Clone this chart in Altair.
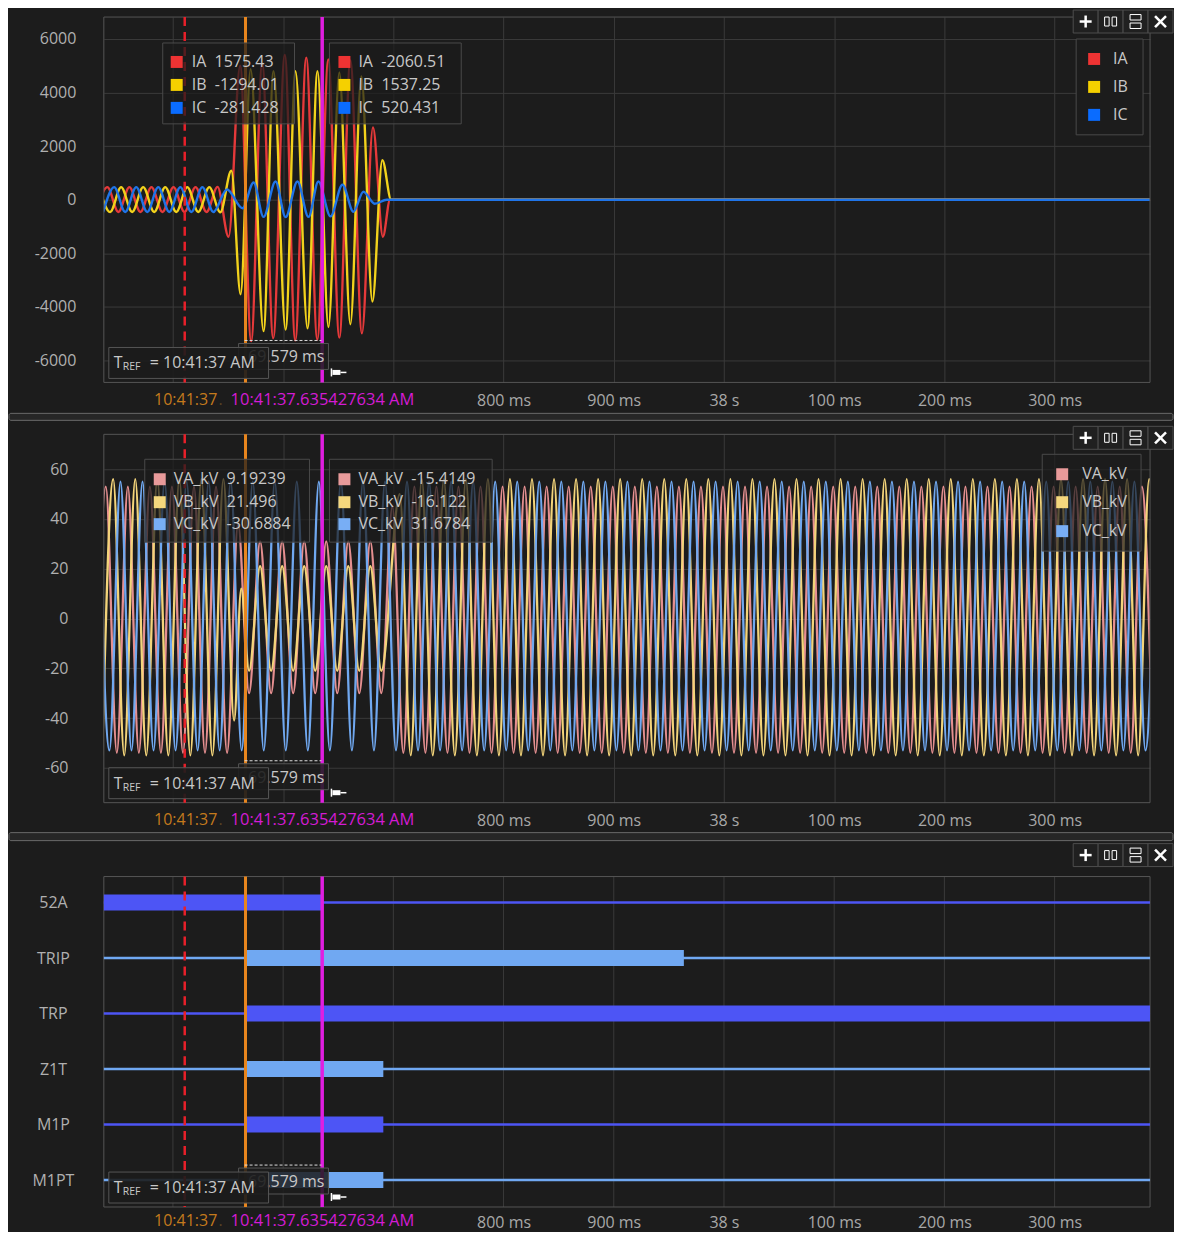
import altair as alt
import pandas as pd

# ---------------- data (time in ms after 10:41:37) ----------------
T_START, T_END = 437.3, 1386.6
X_TICKS = [500, 600, 700, 800, 900, 1000, 1100, 1200, 1300]

CURSOR_TRIGGER = 510.7
CURSOR_1 = 565.85
CURSOR_2 = 635.43
DELTA_TEXT = "69.579 ms"
TREF_TEXT = "= 10:41:37 AM"
C1_LABEL = "10:41:37"
C2_LABEL = "10:41:37.635427634 AM"

# currents: extrema
IA_t = [430.5, 440.5, 450.5, 460.5, 470.5, 480.5, 490.5, 500.5, 510.5, 520.5, 530.5, 540.5,
        550.5, 561.0, 571.0, 581.0, 591.0, 601.5, 611.0, 621.0, 631.0, 641.0, 651.0, 661.0,
        671.5, 681.5, 690.5, 697.0, 1390.0]
IA_v = [-460, 470, -460, 470, -460, 470, -460, 470, -460, 470, -460, 480,
        -1380, 5000, -5280, 5100, -5170, 5400, -5250, 5300, -5220, 5240, -5150, 5200,
        -4990, 2700, -1380, 0, 0]
IB_t = [433, 443, 453, 463, 473, 483, 493, 503, 513, 523, 533, 543,
        553.0, 561.4, 570.5, 582.2, 591.3, 602.2, 611.2, 622.1, 631.2, 641.1, 651.0, 661.0,
        671.0, 681.0, 690.0, 698.0, 1390.0]
IB_v = [470, -460, 470, -460, 470, -460, 470, -460, 470, -460, 470, -470,
        1080, -3530, 4870, -4900, 4800, -4850, 4800, -4800, 4800, -4750, 4750, -4650,
        4600, -3800, 1480, 0, 0]
IC_t = [436.7, 446.7, 456.7, 466.7, 476.7, 486.7, 496.7, 506.7, 516.7, 526.7, 536.7,
        549.0, 563.2, 573.2, 582.2, 593.1, 602.2, 613.0, 623.0, 632.0, 643.0, 653.8, 663.8,
        672.8, 683.0, 694.0, 1390.0]
IC_v = [-460, 470, -460, 470, -460, 470, -460, 470, -460, 470, -460,
        380, -320, 645, -640, 680, -650, 680, -640, 680, -620, 560, -450,
        300, -150, 0, 0]

# voltages: half-cycle extrema (10 ms sample grid per segment)
VA_t = ([429.1 + 10 * k for k in range(13)] + [559.1 + 10 * k for k in range(14)]
        + [699.1 + 10 * k for k in range(70)])
VA_v = ([-54, 53] * 6 + [-54]
        + [38, -30, 31, -30, 31, -30, 31, -30, 31, -30, 31, -30, 31, -30]
        + [45] + [-54, 53] * 34 + [-54])
VB_t = ([435.8 + 10 * k for k in range(12)] + [555.5, 562.0]
        + [569.1 + 10 * k for k in range(13)] + [705.8 + 10 * k for k in range(70)])
VB_v = ([-55, 56] * 6 + [-41, 12] + [-21, 21] * 6 + [-21]
        + [50] + [-55, 56] * 34 + [-55])
VC_t = [432.4 + 10 * k for k in range(97)]
VC_v = [55, -53] * 48 + [55]

# digital channels
ROWS = ["52A", "TRIP", "TRP", "Z1T", "M1P", "M1PT"]
ROW_KIND = ["dark", "light", "dark", "light", "dark", "light"]
ON_START = [437.3, 566.8, 566.8, 566.8, 566.8, 566.8]
ON_END = [635.43, 963.6, 1386.6, 690.9, 690.9, 690.9]

READ1_I = [("IA", "1575.43"), ("IB", "-1294.01"), ("IC", "-281.428")]
READ2_I = [("IA", "-2060.51"), ("IB", "1537.25"), ("IC", "520.431")]
READ1_V = [("VA_kV", "9.19239"), ("VB_kV", "21.496"), ("VC_kV", "-30.6884")]
READ2_V = [("VA_kV", "-15.4149"), ("VB_kV", "-16.122"), ("VC_kV", "31.6784")]

# ---------------- styling ----------------
BG = "#1c1c1c"
FONT = "Open Sans"
TXT = "#c8c8c8"
GRID = "#3a3a3a"
BORDER = "#555555"
I_COL = {"IA": "#e5393a", "IB": "#f2d21c", "IC": "#1f74e8"}
I_SQ = {"IA": "#ee3333", "IB": "#f5d000", "IC": "#0a6cff"}
V_COL = {"VA_kV": "#e58f90", "VB_kV": "#f3d47a", "VC_kV": "#70a8f0"}
V_SQ = {"VA_kV": "#e89a9a", "VB_kV": "#f5d77d", "VC_kV": "#78aef5"}
DARK, LIGHT = "#4d55f5", "#70a8f2"

W = 1048
H1, H2 = 366, 369
P3_TOP, H3 = 22, 353          # panel 3 plot area runs from P3_TOP to H3
XS = alt.Scale(domain=[T_START, T_END], nice=False, zero=False)
ONE = pd.DataFrame({"k": [0]})
NB = "\u00a0\u00a0"
LABEL_EXPR = "datum.value < 750 ? '' : (datum.value == 1000 ? '38 s' : (datum.value % 1000) + ' ms')"


def x_axis(pad=10, grid=True):
    return alt.Axis(values=X_TICKS, grid=grid, gridColor=GRID, domain=False, ticks=False,
                    tickSize=0, labelPadding=pad, labelFontSize=16, labelColor="#a8a8a8",
                    labelFont=FONT, labelOverlap=False, labelFlush=False, title=None,
                    labelExpr=LABEL_EXPR)


def y_axis(values, pad):
    return alt.Axis(values=values, grid=True, gridColor=GRID, domain=False, ticks=False,
                    tickSize=0, labelPadding=pad, labelFontSize=16, labelColor="#b0b0b0",
                    labelFont=FONT, title=None, labelExpr="'' + datum.value")


def txt(x, y, s, color=TXT, size=16, align="left", weight="normal", font=FONT):
    return alt.Chart(ONE).mark_text(align=align, baseline="middle", fontSize=size, color=color,
                                    font=font, fontWeight=weight).encode(
        x=alt.value(x), y=alt.value(y), text=alt.value(s))


def box(x1, y1, x2, y2, fill=BG, stroke="#4a4a4a", fo=1.0, sw=1.0, cr=0):
    kw = dict(fill=fill, fillOpacity=fo, strokeWidth=sw, cornerRadius=cr)
    if stroke:
        kw["stroke"] = stroke
    return alt.Chart(ONE).mark_rect(**kw).encode(
        x=alt.value(x1), x2=alt.value(x2), y=alt.value(y1), y2=alt.value(y2))


def line(x1, y1, x2, y2, color="#ffffff", sw=1.0, dash=None):
    kw = dict(color=color, strokeWidth=sw)
    if dash:
        kw["strokeDash"] = dash
    return alt.Chart(ONE).mark_rule(**kw).encode(
        x=alt.value(x1), x2=alt.value(x2), y=alt.value(y1), y2=alt.value(y2))


def cursors(y0, y1, xa):
    def c(t, color, sw, dash=None):
        kw = dict(color=color, strokeWidth=sw)
        if dash:
            kw["strokeDash"] = dash
        return alt.Chart(pd.DataFrame({"t": [t]})).mark_rule(**kw).encode(
            x=alt.X("t:Q", scale=XS, axis=xa), y=alt.value(y0), y2=alt.value(y1))
    return [c(CURSOR_TRIGGER, "#e8202a", 2.5, [9, 6]), c(CURSOR_1, "#e8861e", 3),
            c(CURSOR_2, "#e01ee0", 3.5)]


def toolbar(y0):
    L = []
    for bx in [971, 996, 1021, 1046]:
        L.append(box(bx, y0, bx + 25, y0 + 23, fill="#202020", stroke="#4d4d4d"))
    cy = y0 + 11.5
    L.append(line(977.5, cy, 989.5, cy, sw=2.5))
    L.append(line(983.5, cy - 6, 983.5, cy + 6, sw=2.5))
    L.append(box(1002.5, cy - 4.5, 1007, cy + 4.5, fill="#202020", stroke="#ffffff", fo=0))
    L.append(box(1010, cy - 4.5, 1014.5, cy + 4.5, fill="#202020", stroke="#ffffff", fo=0))
    L.append(box(1028, cy - 7, 1039, cy - 1.5, fill="#202020", stroke="#ffffff", fo=0))
    L.append(box(1028, cy + 1.5, 1039, cy + 7, fill="#202020", stroke="#ffffff", fo=0))
    L.append(line(1053, cy - 5.5, 1064, cy + 5.5, sw=2.5))
    L.append(line(1053, cy + 5.5, 1064, cy - 5.5, sw=2.5))
    return L


def bottom(H, dy):
    L = []
    L.append(box(135, H - 39, 225, H - 13, fo=0.85, stroke=BORDER))
    L.append(line(141, H - 42, 218, H - 42, color="#dddddd", sw=1, dash=[3, 2]))
    L.append(txt(221, H - 25, DELTA_TEXT, align="right"))
    L.append(box(5, H - 35, 165, H - 4, fo=0.9, stroke=BORDER))
    L.append(txt(10, H - 19, "T"))
    L.append(txt(19, H - 15, "REF", size=10.5))
    L.append(txt(46, H - 19, TREF_TEXT))
    # pin icon
    L.append(line(228, H - 14, 228, H - 6, sw=1.5))
    L.append(box(229, H - 12.5, 237, H - 7.5, fill="#ffffff", stroke=None))
    L.append(line(237, H - 10, 243, H - 10, sw=1.5))
    # cursor time labels
    L.append(txt(82, H + dy, C1_LABEL, color="#c47a1c", size=16, align="center"))
    L.append(txt(117, H + dy, ".", color="#5a4424", size=16, align="center"))
    L.append(txt(219, H + dy, C2_LABEL, color="#d41bd4", size=16.5, align="center"))
    return L


def readout(x1, x2, y1, y2, sq_x, tx_x, rows_y, entries, sq_cols):
    L = [box(x1, y1, x2, y2, fo=0.72, stroke="#4a4a4a")]
    for (name, val), yy in zip(entries, rows_y):
        L.append(box(sq_x - 6, yy - 6, sq_x + 6, yy + 6, fill=sq_cols[name], stroke=None))
        L.append(txt(tx_x, yy, name + NB + val))
    return L


def legend(x1, x2, y1, y2, sq_x, tx_x, rows_y, names, sq_cols, fo):
    L = [box(x1, y1, x2, y2, fo=fo, stroke="#4a4a4a")]
    for name, yy in zip(names, rows_y):
        L.append(box(sq_x - 6, yy - 6, sq_x + 6, yy + 6, fill=sq_cols[name], stroke=None))
        L.append(txt(tx_x, yy, name))
    return L


def wave(t, v, color, ys, xa, ya, sw):
    df = pd.DataFrame({"t": t, "v": v})
    return alt.Chart(df).mark_line(interpolate="monotone", strokeWidth=sw, color=color, clip=True).encode(
        x=alt.X("t:Q", scale=XS, axis=xa),
        y=alt.Y("v:Q", scale=ys, axis=ya))


# ---------------- panel 1: currents ----------------
XA1 = x_axis(10)
YS1 = alt.Scale(domain=[-6820, 6820], nice=False, zero=False)
YA1 = y_axis([-6000, -4000, -2000, 0, 2000, 4000, 6000], 28)
p1_layers = [wave(IA_t, IA_v, I_COL["IA"], YS1, XA1, YA1, 2.4),
             wave(IB_t, IB_v, I_COL["IB"], YS1, XA1, YA1, 2.4),
             wave(IC_t, IC_v, I_COL["IC"], YS1, XA1, YA1, 2.4)]
p1_layers.append(box(0, 0, W, H1, fo=0, stroke=BORDER))
p1_layers += cursors(0, H1, XA1)
p1_layers += readout(59, 191, 26, 107, 73, 88, [45, 68, 91], READ1_I, I_SQ)
p1_layers += readout(226, 358, 26, 107, 241, 255, [45, 68, 91], READ2_I, I_SQ)
p1_layers += legend(974, 1041, 22, 118, 992, 1011, [42, 70, 98], ["IA", "IB", "IC"], I_SQ, 1.0)
p1_layers += toolbar(-7)
p1_layers += bottom(H1, 18)
p1_layers.append(box(-95, H1 + 31, 1071, H1 + 38, fill="#262626", stroke="#6a6a6a", cr=2))
p1 = alt.layer(*p1_layers).properties(width=W, height=H1)

# ---------------- panel 2: voltages ----------------
XA2 = x_axis(10)
YS2 = alt.Scale(domain=[-74, 74], nice=False, zero=False)
YA2 = y_axis([-60, -40, -20, 0, 20, 40, 60], 36)
p2_layers = [wave(VA_t, VA_v, V_COL["VA_kV"], YS2, XA2, YA2, 2.3),
             wave(VB_t, VB_v, V_COL["VB_kV"], YS2, XA2, YA2, 2.3),
             wave(VC_t, VC_v, V_COL["VC_kV"], YS2, XA2, YA2, 2.3)]
p2_layers.append(box(0, 0, W, H2, fo=0, stroke=BORDER))
p2_layers += cursors(0, H2, XA2)
p2_layers += readout(41, 206, 25, 108, 56, 70, [45, 68, 90], READ1_V, V_SQ)
p2_layers += readout(226, 389, 25, 108, 241, 255, [45, 68, 90], READ2_V, V_SQ)
p2_layers += legend(940, 1039, 20, 117, 960, 980, [40, 68, 97], ["VA_kV", "VB_kV", "VC_kV"], V_SQ, 0.7)
p2_layers += toolbar(-8)
p2_layers += bottom(H2, 17)
p2_layers.append(box(-95, H2 + 30, 1071, H2 + 38, fill="#262626", stroke="#6a6a6a", cr=2))
p2 = alt.layer(*p2_layers).properties(width=W, height=H2)

# ---------------- panel 3: digital channels ----------------
XA3 = x_axis(8, grid=False)
dig = pd.DataFrame({"row": ROWS, "kind": ROW_KIND, "t0": [T_START] * len(ROWS),
                    "t1": [T_END] * len(ROWS), "on0": ON_START, "on1": ON_END})
YS3 = alt.Scale(type="point", domain=ROWS, range=[48, 326], padding=0)
YA3 = alt.Axis(grid=False, domain=False, ticks=False, tickSize=0, labelPadding=51,
               labelAlign="center", labelFontSize=16, labelColor="#b0b0b0", labelFont=FONT,
               title=None)
KIND_SCALE = alt.Scale(domain=["dark", "light"], range=[DARK, LIGHT])
vgrid = alt.Chart(pd.DataFrame({"t": X_TICKS})).mark_rule(color=GRID, strokeWidth=1).encode(
    x=alt.X("t:Q", scale=XS, axis=XA3), y=alt.value(P3_TOP), y2=alt.value(H3))
thin = alt.Chart(dig).mark_rule(strokeWidth=2.5).encode(
    x=alt.X("t0:Q", scale=XS, axis=XA3), x2="t1:Q",
    y=alt.Y("row:N", scale=YS3, axis=YA3, sort=ROWS),
    color=alt.Color("kind:N", scale=KIND_SCALE, legend=None))
thick = alt.Chart(dig).mark_rule(strokeWidth=16, strokeCap="butt").encode(
    x=alt.X("on0:Q", scale=XS, axis=XA3), x2="on1:Q",
    y=alt.Y("row:N", scale=YS3, axis=YA3, sort=ROWS),
    color=alt.Color("kind:N", scale=KIND_SCALE, legend=None))
p3_layers = [vgrid, box(0, P3_TOP, W, H3, fo=0, stroke=BORDER), thin, thick]
p3_layers += cursors(P3_TOP, H3, XA3)
p3_layers += toolbar(-11)
p3_layers += bottom(H3, 14)
p3 = alt.layer(*p3_layers).properties(width=W, height=H3)

chart = alt.vconcat(p1, p2, p3, spacing=52, bounds="flush").properties(
    padding=0, background=BG
).configure_view(stroke="transparent", strokeWidth=0).configure_text(font=FONT)

chart.save("out.html", embed_options={"renderer": "svg", "actions": False})
